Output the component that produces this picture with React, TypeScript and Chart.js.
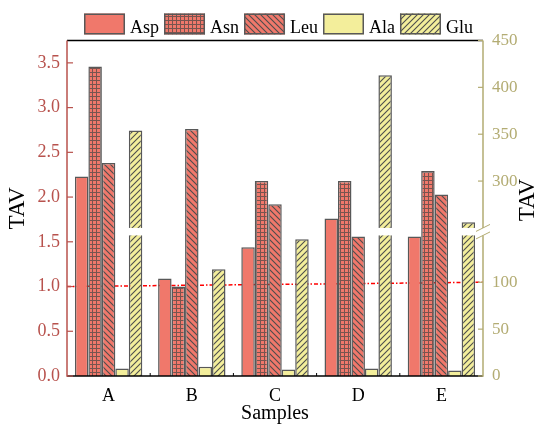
import React, { useEffect, useRef } from 'react';
import { Chart, registerables, LinearScale } from 'chart.js';

// ---------------- data ----------------
const categories = ['A', 'B', 'C', 'D', 'E'];
const aspValues = [2.23, 1.09, 1.44, 1.76, 1.56];
const asnValues = [3.46, 1.0, 2.18, 2.18, 2.29];
const leuValues = [2.38, 2.76, 1.92, 1.56, 2.03];
const alaValues = [8, 10, 7, 8, 6];
const gluValues = [354, 114, 146, 413, 256];
const leftTicks = [0, 0.5, 1.0, 1.5, 2.0, 2.5, 3.0, 3.5];
const rightTicks = [0, 50, 100, 300, 350, 400, 450];
const LEFT_MAX = 3.75;
const RIGHT_MAX = 450;
const BREAK_LOW = 150;
const BREAK_HIGH = 250;
const BREAK_GAP = 8;
const THRESHOLD_LEFT = 1.0;
const THRESHOLD_RIGHT = 100;

// ---------------- styles ----------------
const FONT = '"Liberation Serif", "Times New Roman", serif';
const SALMON = '#F0786B';
const YELLOW = '#F3EE9B';
const EDGE = '#585858';
const LEFT_COLOR = '#B8524D';
const RIGHT_COLOR = '#B3AC73';

function compress(v: number): number {
  if (v <= BREAK_LOW) return v;
  if (v >= BREAK_HIGH) return v - (BREAK_HIGH - BREAK_LOW) + BREAK_GAP;
  return BREAK_LOW + ((v - BREAK_LOW) * BREAK_GAP) / (BREAK_HIGH - BREAK_LOW);
}

class BrokenScale extends LinearScale {
  static id = 'brokenLinear';
  static defaults = LinearScale.defaults;
  getPixelForValue(value: any) {
    if (value === null || value === undefined) return NaN;
    return super.getPixelForValue(compress(Number(value)));
  }
}

Chart.register(...registerables, BrokenScale as any);

function makePattern(kind: string, bg: string, fg: string) {
  const c = document.createElement('canvas');
  const s = kind === 'grid' ? 4 : 6;
  c.width = s;
  c.height = s;
  const g = c.getContext('2d')!;
  g.fillStyle = bg;
  g.fillRect(0, 0, s, s);
  g.strokeStyle = fg;
  g.fillStyle = fg;
  g.lineWidth = 1.1;
  if (kind === 'grid') {
    g.globalAlpha = 0.8;
    g.fillRect(0, 0, s, 1);
    g.fillRect(0, 1, 1, s - 1);
  } else if (kind === 'back') {
    g.beginPath();
    g.moveTo(-1, -1);
    g.lineTo(s + 1, s + 1);
    g.moveTo(-1, s - 1);
    g.lineTo(1, s + 1);
    g.moveTo(s - 1, -1);
    g.lineTo(s + 1, 1);
    g.stroke();
  } else if (kind === 'fwd') {
    g.beginPath();
    g.moveTo(-1, s + 1);
    g.lineTo(s + 1, -1);
    g.moveTo(-1, 1);
    g.lineTo(1, -1);
    g.moveTo(s - 1, s + 1);
    g.lineTo(s + 1, s - 1);
    g.stroke();
  }
  return g.createPattern(c, 'repeat')!;
}

const decor = {
  id: 'decor',
  beforeDatasetsDraw(chart: any) {
    const { ctx, chartArea } = chart;
    const y = chart.scales.y;
    const y2 = chart.scales.y2;
    ctx.save();
    ctx.strokeStyle = '#FF0000';
    ctx.lineWidth = 1.5;
    ctx.setLineDash([4, 2, 1.5, 2]);
    ctx.beginPath();
    ctx.moveTo(chartArea.left, y.getPixelForValue(THRESHOLD_LEFT));
    ctx.lineTo(chartArea.right, y2.getPixelForValue(THRESHOLD_RIGHT));
    ctx.stroke();
    ctx.restore();
  },
  afterDatasetsDraw(chart: any) {
    const { ctx, chartArea } = chart;
    const { left, right, top, bottom } = chartArea;
    const x = chart.scales.x;
    const y = chart.scales.y;
    const y2 = chart.scales.y2;
    const bTop = y2.getPixelForValue(BREAK_HIGH);
    const bBot = y2.getPixelForValue(BREAK_LOW);

    ctx.save();
    // break gaps on right-axis bars
    chart.data.datasets.forEach((ds: any, di: number) => {
      if (ds.yAxisID !== 'y2') return;
      const meta = chart.getDatasetMeta(di);
      meta.data.forEach((el: any, i: number) => {
        if (ds.data[i] > BREAK_LOW) {
          ctx.fillStyle = '#FFFFFF';
          ctx.fillRect(el.x - el.width / 2 - 1.5, bTop, el.width + 3, bBot - bTop);
        }
      });
    });

    // top border
    ctx.lineWidth = 1.5;
    ctx.strokeStyle = '#000000';
    ctx.beginPath();
    ctx.moveTo(left, top);
    ctx.lineTo(right, top);
    ctx.stroke();
    // bottom axis
    ctx.beginPath();
    ctx.moveTo(left, bottom);
    ctx.lineTo(right, bottom);
    ctx.stroke();
    // x ticks at category boundaries
    ctx.lineWidth = 1;
    const n = categories.length;
    for (let i = 1; i < n; i++) {
      const px = (x.getPixelForValue(i - 1) + x.getPixelForValue(i)) / 2;
      ctx.beginPath();
      ctx.moveTo(px, bottom);
      ctx.lineTo(px, bottom - 3);
      ctx.stroke();
    }
    // left axis
    ctx.strokeStyle = LEFT_COLOR;
    ctx.lineWidth = 1.5;
    ctx.beginPath();
    ctx.moveTo(left, top);
    ctx.lineTo(left, bottom + 0.75);
    ctx.stroke();
    ctx.lineWidth = 1.2;
    y.ticks.forEach((t: any) => {
      const py = y.getPixelForValue(t.value);
      ctx.beginPath();
      ctx.moveTo(left, py);
      ctx.lineTo(left + 6, py);
      ctx.stroke();
    });
    // right axis
    ctx.strokeStyle = RIGHT_COLOR;
    ctx.lineWidth = 1.5;
    ctx.beginPath();
    ctx.moveTo(right, top);
    ctx.lineTo(right, bTop);
    ctx.moveTo(right, bBot);
    ctx.lineTo(right, bottom + 0.75);
    ctx.stroke();
    ctx.lineWidth = 1.2;
    y2.ticks.forEach((t: any) => {
      const py = y2.getPixelForValue(t.value);
      ctx.beginPath();
      ctx.moveTo(right - 5, py);
      ctx.lineTo(right, py);
      ctx.stroke();
    });
    // break slashes
    ctx.lineWidth = 1;
    [bTop, bBot].forEach((by) => {
      ctx.beginPath();
      ctx.moveTo(right - 7, by + 3.5);
      ctx.lineTo(right + 7, by - 3.5);
      ctx.stroke();
    });

    // right axis title (reads bottom to top)
    ctx.fillStyle = '#000000';
    ctx.font = `23px ${FONT}`;
    ctx.textAlign = 'center';
    ctx.textBaseline = 'middle';
    ctx.translate(528, 200);
    ctx.rotate(-Math.PI / 2);
    ctx.fillText('TAV', 0, 0);
    ctx.restore();

    // legend
    ctx.save();
    ctx.font = `18px ${FONT}`;
    ctx.textBaseline = 'alphabetic';
    ctx.textAlign = 'left';
    const boxW = 41;
    const boxH = 21;
    const gap1 = 5;
    const gap2 = 5;
    const items = chart.data.datasets.map((d: any) => ({
      label: d.label,
      fill: d.backgroundColor,
      w: ctx.measureText(d.label).width,
    }));
    const total = items.reduce((s: number, it: any) => s + boxW + gap1 + it.w, 0) + gap2 * (items.length - 1);
    let lx = 278.5 - total / 2;
    const boxTop = 13.5;
    items.forEach((it: any) => {
      ctx.fillStyle = it.fill;
      ctx.fillRect(lx, boxTop, boxW, boxH);
      ctx.strokeStyle = EDGE;
      ctx.lineWidth = 1.5;
      ctx.strokeRect(lx + 0.75, boxTop + 0.75, boxW - 1.5, boxH - 1.5);
      ctx.fillStyle = '#000000';
      ctx.fillText(it.label, lx + boxW + gap1, 32.5);
      lx += boxW + gap1 + it.w + gap2;
    });
    ctx.restore();
  },
};

export default function App() {
  const ref = useRef<HTMLCanvasElement | null>(null);
  useEffect(() => {
    if (!ref.current) return;
    const aspFill = SALMON;
    const asnFill = makePattern('grid', SALMON, '#5a4b49');
    const leuFill = makePattern('back', SALMON, '#4d4d4d');
    const alaFill = YELLOW;
    const gluFill = makePattern('fwd', YELLOW, '#4d4d4d');
    const common = { borderColor: EDGE, borderWidth: 1.5 };
    const chart = new Chart(ref.current, {
      type: 'bar',
      data: {
        labels: categories,
        datasets: [
          { label: 'Asp', data: aspValues, yAxisID: 'y', backgroundColor: aspFill, ...common },
          { label: 'Asn', data: asnValues, yAxisID: 'y', backgroundColor: asnFill, ...common },
          { label: 'Leu', data: leuValues, yAxisID: 'y', backgroundColor: leuFill, ...common },
          { label: 'Ala', data: alaValues, yAxisID: 'y2', backgroundColor: alaFill, ...common },
          { label: 'Glu', data: gluValues, yAxisID: 'y2', backgroundColor: gluFill, ...common },
        ] as any,
      },
      options: {
        animation: false,
        responsive: false,
        devicePixelRatio: 1,
        layout: { padding: { top: 40.5, left: 0, right: 0, bottom: 0 } },
        datasets: { bar: { categoryPercentage: 0.81, barPercentage: 1 } },
        plugins: { legend: { display: false }, tooltip: { enabled: false } },
        scales: {
          x: {
            grid: { display: false, drawTicks: false },
            border: { display: false },
            ticks: { color: '#000000', font: { family: FONT, size: 18 }, padding: 9 },
            title: {
              display: true,
              text: 'Samples',
              color: '#000000',
              font: { family: FONT, size: 20 },
              padding: { top: 0, bottom: -1 },
            },
            afterFit: (s: any) => {
              s.height = 49;
            },
          },
          y: {
            position: 'left',
            min: 0,
            max: LEFT_MAX,
            afterBuildTicks: (s: any) => {
              s.ticks = leftTicks.map((v) => ({ value: v }));
            },
            ticks: {
              autoSkip: false,
              callback: (v: any) => Number(v).toFixed(1),
              color: LEFT_COLOR,
              font: { family: FONT, size: 18 },
              padding: 7,
            },
            grid: { display: false, drawTicks: false },
            border: { display: false },
            title: {
              display: true,
              text: 'TAV',
              color: '#000000',
              font: { family: FONT, size: 23 },
              padding: { top: 4, bottom: 0 },
            },
            afterFit: (s: any) => {
              s.width = 67;
            },
          },
          y2: {
            type: 'brokenLinear',
            position: 'right',
            min: 0,
            max: compress(RIGHT_MAX),
            afterBuildTicks: (s: any) => {
              s.ticks = rightTicks.map((v) => ({ value: v }));
            },
            ticks: {
              autoSkip: false,
              callback: (v: any) => String(v),
              color: RIGHT_COLOR,
              font: { family: FONT, size: 17 },
              padding: 9,
            },
            grid: { display: false, drawTicks: false },
            border: { display: false },
            afterFit: (s: any) => {
              s.width = 56;
            },
          },
        } as any,
      },
      plugins: [decor],
    });
    return () => chart.destroy();
  }, []);
  return (
    <canvas
      ref={ref}
      width={539}
      height={425}
      style={{ position: 'fixed', left: 0, top: 0, width: 539, height: 425 }}
    />
  );
}
